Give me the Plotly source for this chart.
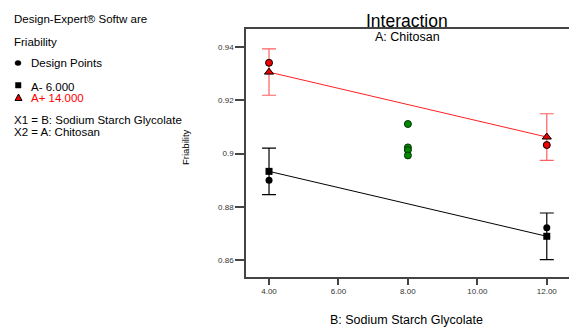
import plotly.graph_objects as go

# ---- data ----
sodium_levels = [4, 12]
pred_low = [0.8933, 0.8689]      # A- 6.000
pred_high = [0.9306, 0.9062]     # A+ 14.000
ci_low = [0.00875, 0.00875]
ci_high = [0.0087, 0.00875]
pts_low_x = [4, 12]
pts_low_y = [0.8900, 0.8721]
pts_high_x = [4, 12]
pts_high_y = [0.9341, 0.9032]
pts_center_x = [8, 8, 8, 8]
pts_center_y = [0.9111, 0.9023, 0.9013, 0.8993]
x_ticks = [4, 6, 8, 10, 12]
x_ticktext = ["4.00", "6.00", "8.00", "10.00", "12.00"]
y_ticks = [0.86, 0.88, 0.90, 0.92, 0.94]
y_ticktext = ["0.86", "0.88", "0.9", "0.92", "0.94"]

W, H = 569, 328
L, R, T, B = 246, 569, 29, 277
FONT = "Liberation Sans, Arial, sans-serif"

def px(x):
    return (x - L) / (R - L)

def py(y):
    return (B - y) / (B - T)

fig = go.Figure()

# black (A-) prediction line with CI
fig.add_trace(go.Scatter(
    x=sodium_levels, y=pred_low, mode="lines+markers",
    line=dict(color="black", width=1),
    marker=dict(symbol="square", size=7, color="black"),
    error_y=dict(type="data", array=ci_low, color="black", thickness=1.2, width=7),
    showlegend=False))
# red (A+) prediction line with CI
fig.add_trace(go.Scatter(
    x=sodium_levels, y=pred_high, mode="lines+markers",
    line=dict(color="#ff2020", width=1),
    marker=dict(symbol="triangle-up", size=8, color="#ee0000", line=dict(color="black", width=1)),
    error_y=dict(type="data", array=ci_high, color="#ff6060", thickness=1.2, width=7),
    showlegend=False))
# design points
fig.add_trace(go.Scatter(
    x=pts_low_x, y=pts_low_y, mode="markers",
    marker=dict(symbol="circle", size=7, color="black"), showlegend=False))
fig.add_trace(go.Scatter(
    x=pts_high_x, y=pts_high_y, mode="markers",
    marker=dict(symbol="circle", size=7, color="#ee0000", line=dict(color="black", width=1)),
    showlegend=False))
fig.add_trace(go.Scatter(
    x=pts_center_x, y=pts_center_y, mode="markers",
    marker=dict(symbol="circle", size=7, color="#008800", line=dict(color="#003300", width=1)),
    showlegend=False))

ann = []
def text(x, y, s, size=11.5, color="black", xanchor="left", **kw):
    ann.append(dict(x=px(x), y=py(y), xref="paper", yref="paper", text=s, showarrow=False,
                    xanchor=xanchor, yanchor="middle", font=dict(family=FONT, size=size, color=color), **kw))

text(12, 18.5, "Design-Expert® Softw are")
text(12, 42, "Friability")
text(29, 63, "Design Points")
text(29, 87, "A- 6.000")
text(29, 98, "A+ 14.000", color="#ff0000")
text(12, 120, "X1 = B: Sodium Starch Glycolate")
text(12, 131.5, "X2 = A: Chitosan")
text(407, 20.5, "Interaction", size=17.5, xanchor="center")
text(407.5, 36.5, "A: Chitosan", size=12.5, xanchor="center")
text(406, 319.5, "B: Sodium Starch Glycolate", size=12.5, xanchor="center")
text(185, 147, "Friability", size=9.5, xanchor="center", textangle=-90)

shapes = [
    dict(type="circle", xref="paper", yref="paper", x0=px(15), x1=px(21), y0=py(65.5), y1=py(60.5),
         fillcolor="black", line=dict(color="black", width=0.5)),
    dict(type="rect", xref="paper", yref="paper", x0=px(15.5), x1=px(21), y0=py(88), y1=py(82.5),
         fillcolor="black", line=dict(color="black", width=0.5)),
    dict(type="path", xref="paper", yref="paper",
         path=f"M {px(15)} {py(100.5)} L {px(22)} {py(100.5)} L {px(18.5)} {py(94)} Z",
         fillcolor="#ee0000", line=dict(color="black", width=1)),
]

fig.update_layout(
    width=W, height=H,
    margin=dict(l=L, r=W - R, t=T, b=H - B),
    paper_bgcolor="white", plot_bgcolor="white",
    annotations=ann, shapes=shapes,
    xaxis=dict(range=[3.337, 12.64], tickvals=x_ticks, ticktext=x_ticktext,
               showgrid=False, zeroline=False, showline=True, linecolor="#444", linewidth=1.5,
               mirror=True, ticks="outside", ticklen=6, tickcolor="#444", tickwidth=1.5,
               tickfont=dict(family=FONT, size=8, color="#333")),
    yaxis=dict(range=[0.8536, 0.9468], tickvals=y_ticks, ticktext=y_ticktext,
               showgrid=False, zeroline=False, showline=True, linecolor="#444", linewidth=1.5,
               ticks="outside", ticklen=9, tickcolor="#444", tickwidth=1.5,
               tickfont=dict(family=FONT, size=8, color="#333")),
)

fig.write_html("out.html")
